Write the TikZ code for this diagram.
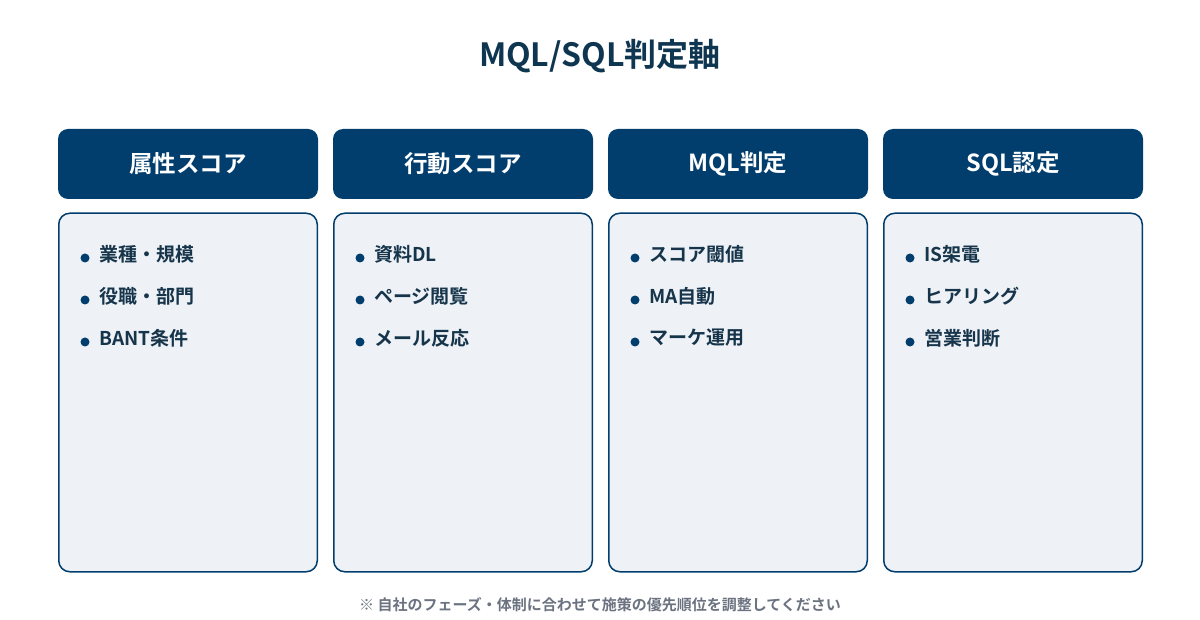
\documentclass[tikz,border=0pt]{standalone}
\usepackage{fontspec}
\setmainfont{Noto Sans CJK JP}[BoldFont={* Bold}]
\newfontfamily\jpb{Noto Sans CJK JP Bold}
\definecolor{navy}{HTML}{013E6D}
\definecolor{titlec}{HTML}{0F3650}
\definecolor{bodyfill}{HTML}{EEF2F7}
\definecolor{itemc}{HTML}{16344A}
\definecolor{footc}{HTML}{6B7280}
\begin{document}
\begin{tikzpicture}[x=1pt,y=-1pt,
  headbox/.style={fill=navy,rounded corners=10pt,minimum width=260pt,minimum height=70pt,inner sep=0pt,text=white,font=\jpb\fontsize{23.5}{26}\selectfont},
  bodybox/.style={draw=navy,line width=1.5pt,fill=bodyfill,rounded corners=11pt,minimum width=258.5pt,minimum height=358.5pt,inner sep=0pt},
  itemtext/.style={anchor=west,inner sep=0pt,text=itemc,font=\jpb\fontsize{19}{22}\selectfont},
  dot/.style={circle,fill=navy,inner sep=0pt,minimum size=9pt}]
\useasboundingbox (0,0) rectangle (1200,620);
\fill[white] (0,0) rectangle (1200,620);
\node[text=titlec,font=\jpb\fontsize{32}{36}\selectfont] (title) at (600,56) {MQL/SQL判定軸};
\foreach \i/\h/\a/\b/\c in {0/属性スコア/業種・規模/役職・部門/BANT条件,
                             1/行動スコア/資料DL/ページ閲覧/メール反応,
                             2/MQL判定/スコア閾値/MA自動/マーケ運用,
                             3/SQL認定/IS架電/ヒアリング/営業判断}{
  \pgfmathsetmacro{\xl}{58+275*\i}
  \node[headbox] (h\i) at (\xl+130,164) {\h};
  \node[bodybox] (b\i) at (\xl+130,392.5) {};
  \node[dot] (d\i a) at (\xl+27,258) {};
  \node[itemtext] (t\i a) at (\xl+41,254) {\a};
  \node[dot] (d\i b) at (\xl+27,300) {};
  \node[itemtext] (t\i b) at (\xl+41,296) {\b};
  \node[dot] (d\i c) at (\xl+27,342) {};
  \node[itemtext] (t\i c) at (\xl+41,338) {\c};
}
\node[text=footc,font=\jpb\fontsize{15}{18}\selectfont] (foot) at (600,605) {※ 自社のフェーズ・体制に合わせて施策の優先順位を調整してください};
\end{tikzpicture}
\end{document}
